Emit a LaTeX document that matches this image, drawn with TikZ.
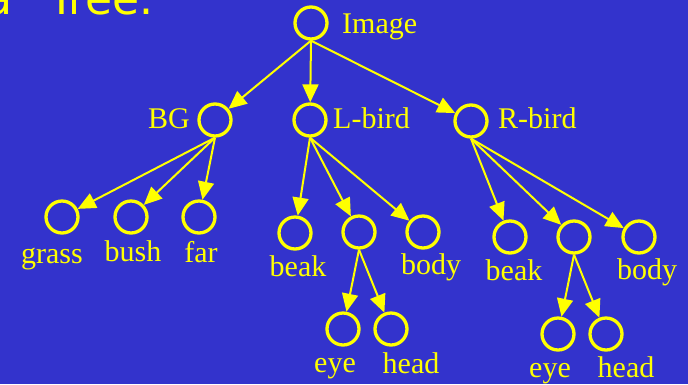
\documentclass[tikz,border=0pt]{standalone}
\usepackage{fontspec}
\setmainfont{Liberation Serif}
\newfontfamily\headfont{DejaVu Sans}
\usetikzlibrary{arrows.meta}
\definecolor{slideblue}{RGB}{51,51,204}
\definecolor{slideyellow}{RGB}{255,255,0}

\begin{document}
\begin{tikzpicture}[x=1pt, y=-1pt,
    part/.style={circle, draw=slideyellow, line width=3.3pt, minimum size=32pt, inner sep=0pt},
    lbl/.style={text=slideyellow, font=\fontsize{30}{30}\selectfont, inner sep=0pt},
    link/.style={draw=slideyellow, line width=2pt, -{Triangle[length=18pt 0,width=16pt 0]}}]
    \useasboundingbox (0,0) rectangle (688,384);
    \clip (0,0) rectangle (688,384);
    \fill[slideblue] (0,0) rectangle (688,384);

    % Titel (oben abgeschnitten)
    \node[text=slideyellow, font=\headfont\fontsize{44}{44}\selectfont, anchor=base east, inner sep=0pt]
        (title) at (154,14) {a\hspace{0.8em}Tree.};

    % Knoten
    \node[part] (img)   at (311,23)  {};
    \node[part] (bg)    at (215,120) {};
    \node[part] (lbird) at (310,120) {};
    \node[part] (rbird) at (471,121) {};

    \node[part] (grass) at (62,217)  {};
    \node[part] (bush)  at (131,217) {};
    \node[part] (far)   at (199,217) {};

    \node[part] (lbeak) at (295,233) {};
    \node[part] (lhead) at (359,232) {};
    \node[part] (lbody) at (423,232) {};
    \node[part] (leye)  at (343,329) {};
    \node[part] (lhd)   at (391,329) {};

    \node[part] (rbeak) at (510,237) {};
    \node[part] (rhead) at (574,237) {};
    \node[part] (rbody) at (639,237) {};
    \node[part] (reye)  at (558,334) {};
    \node[part] (rhd)   at (606,334) {};

    % Kanten
    \foreach \c in {bg,lbird,rbird} {
        \draw[link] (img.south) -- (\c);
    }
    \foreach \c in {grass,bush,far} {
        \draw[link] (bg.south) -- (\c);
    }
    \foreach \c in {lbeak,lhead,lbody} {
        \draw[link] (lbird.south) -- (\c);
    }
    \foreach \c in {rbeak,rhead,rbody} {
        \draw[link] (rbird.south) -- (\c);
    }
    \foreach \c in {leye,lhd} {
        \draw[link] (lhead.south) -- (\c);
    }
    \foreach \c in {reye,rhd} {
        \draw[link] (rhead.south) -- (\c);
    }

    % Beschriftungen
    \node[lbl, anchor=base west] (timg)   at (342,33)  {Image};
    \node[lbl, anchor=base east] (tbg)    at (190,128) {BG};
    \node[lbl, anchor=base west] (tlbird) at (333,128) {L-bird};
    \node[lbl, anchor=base west] (trbird) at (498,128) {R-bird};

    \node[lbl, anchor=base] (tgrass) at (52,263)  {grass};
    \node[lbl, anchor=base] (tbush)  at (133,261) {bush};
    \node[lbl, anchor=base] (tfar)   at (201,262) {far};

    \node[lbl, anchor=base] (tlbeak) at (298,276) {beak};
    \node[lbl, anchor=base] (tlbody) at (431,274) {body};
    \node[lbl, anchor=base] (tleye)  at (335,372) {eye};
    \node[lbl, anchor=base] (tlhd)   at (411,373) {head};

    \node[lbl, anchor=base] (trbeak) at (514,280) {beak};
    \node[lbl, anchor=base] (trbody) at (647,279) {body};
    \node[lbl, anchor=base] (treye)  at (550,377) {eye};
    \node[lbl, anchor=base] (trhd)   at (626,377) {head};
\end{tikzpicture}
\end{document}
